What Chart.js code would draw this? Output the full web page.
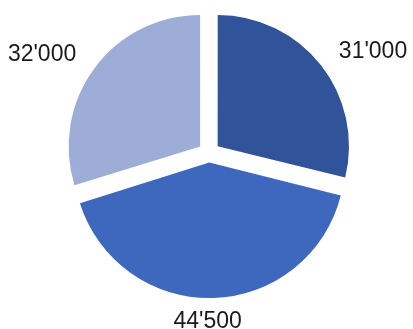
<!DOCTYPE html>
<html>
<head>
<meta charset="utf-8">
<script src="https://cdn.jsdelivr.net/npm/chart.js@4/dist/chart.umd.min.js"></script>
<style>
  html, body { margin: 0; padding: 0; background: #ffffff; }
  #wrap { position: relative; width: 413px; height: 329px; }
</style>
</head>
<body>
<div id="wrap"><canvas id="c"></canvas></div>
<script>
// Data (clockwise from 12 o'clock)
const categories = ["A", "B", "C"];
const values = [31000, 44500, 32000];
const colors = ["#30539A", "#3E68BE", "#9DADD7"];

function fmt(v) {
  return String(Math.round(v)).replace(/\B(?=(\d{3})+(?!\d))/g, "'");
}

const labelPlugin = {
  id: 'outsideLabels',
  afterDatasetsDraw(chart) {
    const ctx = chart.ctx;
    const meta = chart.getDatasetMeta(0);
    ctx.save();
    ctx.font = '23px "Liberation Sans", Arial, Helvetica, sans-serif';
    ctx.fillStyle = '#1a1a1a';
    meta.data.forEach((arc, i) => {
      const p = arc.getProps(['x', 'y', 'startAngle', 'endAngle', 'outerRadius'], true);
      const mid = (p.startAngle + p.endAngle) / 2;
      const dx = Math.cos(mid), dy = Math.sin(mid);
      const off = (arc.options.offset || 0) / 4;
      const text = fmt(values[i]);
      if (Math.abs(dx) > 0.5) {
        const D = p.outerRadius + off + 23;
        ctx.textAlign = dx > 0 ? 'left' : 'right';
        ctx.textBaseline = 'middle';
        ctx.fillText(text, p.x + dx * D, p.y + dy * D);
      } else {
        const D = p.outerRadius + off + 17;
        ctx.textAlign = 'center';
        ctx.textBaseline = dy > 0 ? 'top' : 'bottom';
        ctx.fillText(text, p.x + dx * D - 6, p.y + dy * D);
      }
    });
    ctx.restore();
  }
};

new Chart(document.getElementById('c'), {
  type: 'pie',
  data: {
    labels: categories,
    datasets: [{
      data: values,
      backgroundColor: colors,
      borderWidth: 0,
      offset: [44, 38, 44]
    }]
  },
  options: {
    responsive: true,
    maintainAspectRatio: false,
    animation: false,
    radius: 131,
    layout: { padding: { left: 5, right: 0, top: 0, bottom: 23 } },
    plugins: {
      legend: { display: false },
      tooltip: { enabled: false }
    }
  },
  plugins: [labelPlugin]
});
</script>
</body>
</html>
